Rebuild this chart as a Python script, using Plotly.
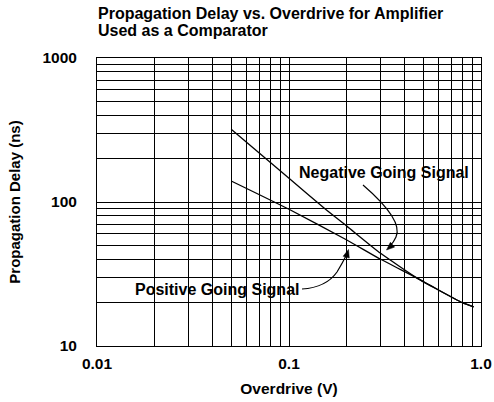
import math
import plotly.graph_objects as go

# ---- data ----
neg_overdrive_v = [0.05, 0.1, 0.155, 0.2, 0.3, 0.467, 0.6, 0.8, 0.916]
neg_delay_ns = [320, 146, 89, 68, 44, 29.5, 24.5, 20, 18.7]
pos_overdrive_v = [0.05, 0.1, 0.2, 0.3, 0.467, 0.6, 0.8, 0.916]
pos_delay_ns = [140, 89, 54.5, 40, 29.5, 24.5, 20, 18.7]

x_grid_vals = [0.01, 0.02, 0.03, 0.04, 0.05, 0.06, 0.07, 0.08, 0.09,
               0.1, 0.2, 0.3, 0.4, 0.5, 0.6, 0.7, 0.8, 0.9, 1.0]
x_tick_text = ["0.01", "", "", "", "", "", "", "", "",
               "0.1", "", "", "", "", "", "", "", "", "1.0"]
y_grid_vals = [10, 20, 30, 40, 50, 60, 70, 80, 90,
               100, 200, 300, 400, 500, 600, 700, 800, 900, 1000]
y_tick_text = ["10", "", "", "", "", "", "", "", "",
               "100", "", "", "", "", "", "", "", "", "1000"]

title_lines = ["Propagation Delay vs. Overdrive for Amplifier", "Used as a Comparator"]
x_title = "Overdrive (V)"
y_title = "Propagation Delay (ns)"
neg_label = "Negative Going Signal"
pos_label = "Positive Going Signal"

# ---- layout geometry (window pixels; body margin removed below) ----
W, H = 494, 402
ML, MR, MT, MB = 97, 13, 58, 56
PW = W - ML - MR
PH = H - MT - MB
X_LOG = (-2, 0)
Y_LOG = (1, 3)
FONT = "Liberation Sans, Arial, sans-serif"


def px(x, y):
    """pixel -> paper"""
    return (x - ML) / PW, (H - MB - y) / PH


def pd(x, y):
    """pixel -> log-axis data coordinates"""
    fx, fy = px(x, y)
    return X_LOG[0] + fx * (X_LOG[1] - X_LOG[0]), Y_LOG[0] + fy * (Y_LOG[1] - Y_LOG[0])


def path(points, closed=False):
    segs = []
    for cmd, pts in points:
        segs.append(cmd + " ".join("%.5f,%.5f" % px(*p) for p in pts))
    return " ".join(segs) + (" Z" if closed else "")


def arrowhead(tip, direction, length=8, half=3.2):
    dx, dy = direction
    n = math.hypot(dx, dy)
    dx, dy = dx / n, dy / n
    bx, by = tip[0] - dx * length, tip[1] - dy * length
    nx, ny = -dy, dx
    return path([("M", [tip]), ("L", [(bx + nx * half, by + ny * half)]),
                 ("L", [(bx - nx * half, by - ny * half)])], closed=True)


fig = go.Figure()
line_style = dict(color="black", width=1.3, shape="spline", smoothing=0.5)
fig.add_trace(go.Scatter(x=neg_overdrive_v, y=neg_delay_ns, mode="lines",
                         line=line_style, name=neg_label, hoverinfo="x+y"))
fig.add_trace(go.Scatter(x=pos_overdrive_v, y=pos_delay_ns, mode="lines",
                         line=line_style, name=pos_label, hoverinfo="x+y"))

shapes = []
# white label boxes (above grid, below curves)
for (x0, y0, x1, y1) in [(297, 159.5, 470, 193), (131, 272, 303, 301)]:
    a = pd(x0, y1)
    b = pd(x1, y0)
    shapes.append(dict(type="rect", xref="x", yref="y",
                       x0=a[0], y0=a[1], x1=b[0], y1=b[1],
                       fillcolor="white", line=dict(width=0), layer="between"))
# leader curves with arrowheads
shapes.append(dict(type="path", xref="paper", yref="paper",
                   path=path([("M", [(363, 185)]),
                              ("C", [(385, 204), (402, 224), (396, 237)]),
                              ("C", [(394, 242), (391, 245), (389, 247)])]),
                   line=dict(color="black", width=1.2)))
shapes.append(dict(type="path", xref="paper", yref="paper",
                   fillcolor="black", line=dict(color="black", width=0.5),
                   path=arrowhead((386.5, 250), (-0.75, 0.66))))
shapes.append(dict(type="path", xref="paper", yref="paper",
                   path=path([("M", [(302, 289)]),
                              ("C", [(318, 288), (330, 282), (337, 272)]),
                              ("C", [(342, 264), (345, 258), (347, 254)])]),
                   line=dict(color="black", width=1.2)))
shapes.append(dict(type="path", xref="paper", yref="paper",
                   fillcolor="black", line=dict(color="black", width=0.5),
                   path=arrowhead((348.5, 249.5), (0.3, -1))))

annotations = []


def label(text, x, y, size, xanchor="center"):
    ax, ay = px(x, y)
    annotations.append(dict(text=text, x=ax, y=ay, xref="paper", yref="paper",
                            xanchor=xanchor, yanchor="middle", showarrow=False,
                            font=dict(family=FONT, size=size, color="black", weight="bold")))


label(title_lines[0], 96, 13.5, 16, xanchor="left")
label(title_lines[1], 96, 30.5, 16, xanchor="left")
label(neg_label, 383.5, 172.5, 16)
label(pos_label, 216.5, 289, 16)

axis_common = dict(type="log", showgrid=True, gridcolor="black", gridwidth=1,
                   showline=True, linecolor="black", linewidth=1, mirror=True,
                   ticks="", zeroline=False, automargin=False,
                   tickfont=dict(family=FONT, size=15.5, color="black", weight="bold"))

fig.update_layout(
    width=W, height=H,
    margin=dict(l=ML, r=MR, t=MT, b=MB, pad=0, autoexpand=False),
    paper_bgcolor="white", plot_bgcolor="white",
    showlegend=False,
    shapes=shapes,
    annotations=annotations,
    xaxis=dict(axis_common, range=list(X_LOG), tickmode="array",
               tickvals=x_grid_vals, ticktext=x_tick_text, ticklabelstandoff=3,
               title=dict(text=x_title, standoff=12,
                          font=dict(family=FONT, size=15.5, color="black", weight="bold"))),
    yaxis=dict(axis_common, range=list(Y_LOG), tickmode="array",
               tickvals=y_grid_vals, ticktext=y_tick_text, ticklabelstandoff=16,
               title=dict(text=y_title, standoff=18,
                          font=dict(family=FONT, size=15, color="black", weight="bold"))),
)

# remove the browser's default 8px body margin so the figure fills the window
fig.write_html("out.html",
               config={"displayModeBar": False},
               post_script="document.body.style.margin='0';document.body.style.overflow='hidden';")
